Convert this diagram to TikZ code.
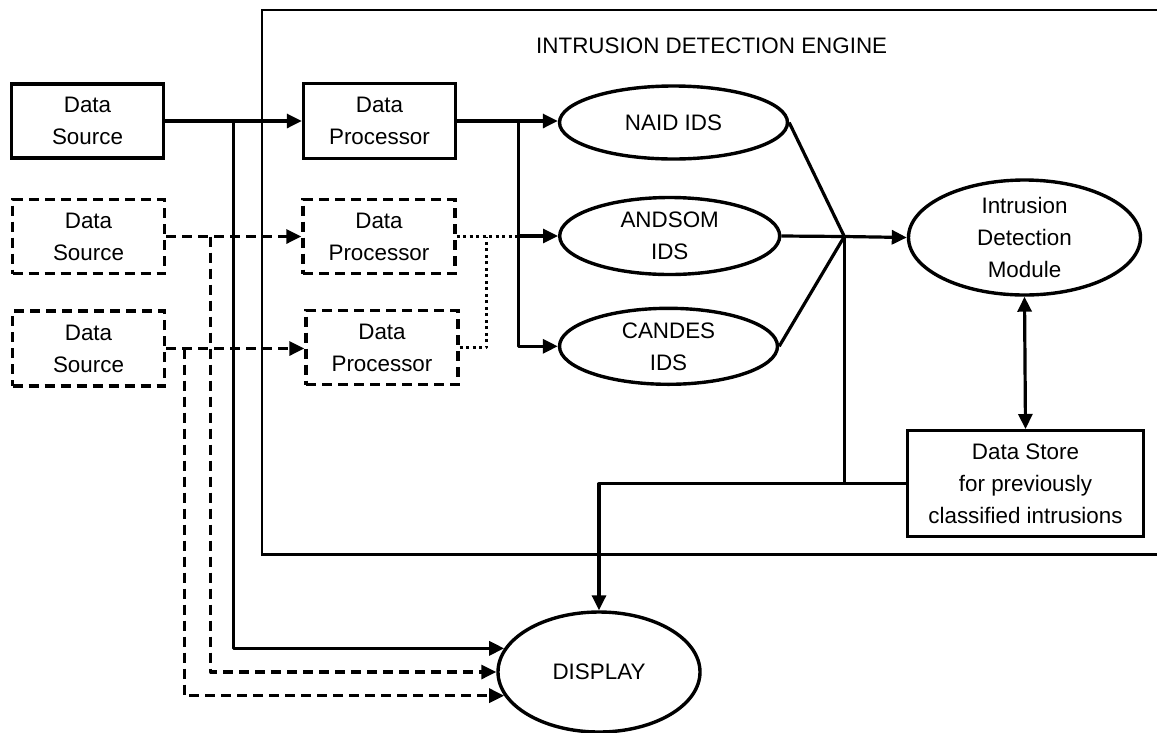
\documentclass[tikz,border=0pt]{standalone}
\usepackage{fontspec}
\setmainfont{Liberation Sans}
\usetikzlibrary{arrows.meta,shapes.geometric,calc}
\begin{document}
\begin{tikzpicture}[x=1pt,y=-1pt,
  txt/.style={font=\fontsize{22.4}{32}\selectfont, align=center, inner sep=0pt},
  box/.style={txt, draw, line width=3.4pt, rectangle, minimum width=152pt, minimum height=74pt},
  dbox/.style={box, dash pattern=on 10pt off 6pt},
  oval/.style={txt, draw, line width=3.4pt, ellipse},
  wire/.style={line width=3.2pt, line join=round},
  conn/.style={wire, -{Triangle[length=15pt,width=14pt]}},
  dconn/.style={conn, dash pattern=on 10pt off 6pt},
  dotwire/.style={wire, dash pattern=on 3pt off 3.5pt},
  twoway/.style={wire, {Triangle[length=15pt,width=14pt]}-{Triangle[length=15pt,width=14pt]}},
]
\useasboundingbox (0,0) rectangle (1157,732);
\clip (0,0) rectangle (1157,732);

% engine frame and its caption
\draw[line width=2.4pt] (261.7,10) rectangle (1180,554.5);
\node[txt] (title) at (711.7,45.8) {INTRUSION DETECTION ENGINE};

% sources and processors
\node[box] (ds1) at (87.5,121) {Data\\Source};
\node[dbox] (ds2) at (88.5,236.5) {Data\\Source};
\node[dbox, minimum height=75pt] (ds3) at (88.5,348.5) {Data\\Source};
\node[box, minimum height=75pt] (dp1) at (379.5,121) {Data\\Processor};
\node[dbox] (dp2) at (379,236.5) {Data\\Processor};
\node[dbox] (dp3) at (382,347.5) {Data\\Processor};

% detectors
\node[oval, minimum width=228pt, minimum height=73pt] (naid) at (673.5,122.5) {NAID IDS};
\node[oval, minimum width=220pt, minimum height=77pt] (andsom) at (669.7,236) {ANDSOM\\IDS};
\node[oval, minimum width=218pt, minimum height=76pt] (candes) at (668.5,346.3) {CANDES\\IDS};
\node[oval, minimum width=232pt, minimum height=115pt] (idm) at (1024.5,237.5) {Intrusion\\Detection\\Module};
\node[box, minimum width=236pt, minimum height=106pt] (store) at (1025.5,483.7) {Data Store\\for previously\\classified intrusions};
\node[oval, minimum width=202pt, minimum height=120pt] (display) at (599,672) {DISPLAY};

% branch points
\coordinate (s1) at (233.3,121);
\coordinate (s2) at (210.7,236.5);
\coordinate (s3) at (184.3,348.5);
\coordinate (fan) at (518.3,121);
\coordinate (merge) at (486.7,236.5);
\coordinate (hub) at (844.3,236.5);

% source feeds
\draw[conn] (ds1.east) -- (dp1.west);
\draw[conn] (s1) |- (display.166.8);
\draw[dconn] (ds2.east) -- (dp2.west);
\draw[dconn] (s2) |- (display.west);
\draw[dconn] (ds3.east) -- (ds3.east -| dp3.west);
\draw[dconn] (s3) |- (display.194.5);

% processors to detectors
\draw[conn] (dp1.east) -- (dp1.east -| naid.west);
\draw[conn] (fan) |- (andsom.west);
\draw[conn] (fan) |- (candes.west);
\draw[dotwire] (dp2.east) -- (dp2.east -| fan);
\draw[dotwire] (dp3.east) -| (merge);

% detectors to module, store and display
\draw[wire] (naid.east) -- (hub);
\draw[wire] (andsom.east) -- (hub);
\draw[wire] (candes.east) -- (hub);
\draw[conn] (hub) -- (idm.west);
\draw[wire] (hub) -- (hub |- store.west);
\draw[conn] (store.west) -| (display.north);
\draw[twoway] (idm.south) -- (store.north);
\end{tikzpicture}
\end{document}
